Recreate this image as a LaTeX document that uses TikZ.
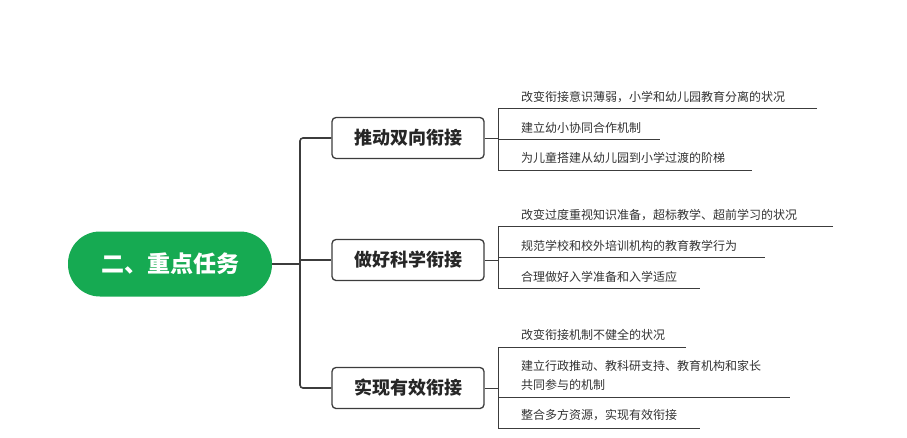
\documentclass[tikz,border=0pt]{standalone}
\usepackage{fontspec}
\setmainfont{Noto Sans CJK SC}
\usetikzlibrary{positioning}
\definecolor{rootgreen}{RGB}{22,170,82}
\definecolor{linegray}{RGB}{60,60,60}
\tikzset{
  root/.style = {fill=rootgreen, rounded corners=32pt, minimum width=204pt, minimum height=65pt, text=white, font=\fontsize{23}{26}\selectfont\bfseries},
  branch/.style = {draw=linegray, line width=1.3pt, fill=white, rounded corners=4pt, minimum width=152pt, minimum height=41pt, font=\fontsize{18}{21}\selectfont\bfseries, text=black!85},
  leaf/.style = {anchor=west, inner sep=0pt, font=\fontsize{12}{19}\selectfont, text=black!80, align=left},
  link/.style = {draw=linegray, line width=1.6pt},
  under/.style = {draw=linegray, line width=0.8pt}
}
\begin{document}
\begin{tikzpicture}[x=1pt, y=-1pt]
  \useasboundingbox (0,0) rectangle (907,437);

  \node[root] (r) at (170,264) {二、重点任务};

  \node[branch] (b1) at (408,138) {推动双向衔接};
  \node[branch] (b2) at (408,260) {做好科学衔接};
  \node[branch] (b3) at (408,388) {实现有效衔接};

  \coordinate (j) at (300,264);
  \draw[link] (r.east) -- (j);
  \draw[link, rounded corners=3pt] (b1.west) -| (j) |- (b3.west);
  \draw[link] (j |- b2.west) -- (b2.west);

  % leaves of branch 1
  \node[leaf] (l11) at (521,97) {改变衔接意识薄弱，小学和幼儿园教育分离的状况};
  \node[leaf] (l12) at (521,128) {建立幼小协同合作机制};
  \node[leaf] (l13) at (521,158) {为儿童搭建从幼儿园到小学过渡的阶梯};
  \coordinate (u11) at (498,108); \coordinate (e11) at (817,108);
  \coordinate (u12) at (498,139); \coordinate (e12) at (660,139);
  \coordinate (u13) at (498,170); \coordinate (e13) at (752,170);
  \draw[under] (b1.east) -- (u11 |- b1.east);
  \draw[under] (e11) -- (u11) -- (u13) -- (e13);
  \draw[under] (u12) -- (e12);

  % leaves of branch 2
  \node[leaf] (l21) at (521,215) {改变过度重视知识准备，超标教学、超前学习的状况};
  \node[leaf] (l22) at (521,246) {规范学校和校外培训机构的教育教学行为};
  \node[leaf] (l23) at (521,277) {合理做好入学准备和入学适应};
  \coordinate (u21) at (498,226); \coordinate (e21) at (833,226);
  \coordinate (u22) at (498,257); \coordinate (e22) at (765,257);
  \coordinate (u23) at (498,288); \coordinate (e23) at (700,288);
  \draw[under] (b2.east) -- (u21 |- b2.east);
  \draw[under] (e21) -- (u21) -- (u23) -- (e23);
  \draw[under] (u22) -- (e22);

  % leaves of branch 3
  \node[leaf] (l31) at (521,335) {改变衔接机制不健全的状况};
  \node[leaf] (l32) at (521,375) {建立行政推动、教科研支持、教育机构和家长\\共同参与的机制};
  \node[leaf] (l33) at (521,415) {整合多方资源，实现有效衔接};
  \coordinate (u31) at (498,347); \coordinate (e31) at (686,347);
  \coordinate (u32) at (498,397); \coordinate (e32) at (790,397);
  \coordinate (u33) at (498,428); \coordinate (e33) at (700,428);
  \draw[under] (b3.east) -- (u31 |- b3.east);
  \draw[under] (e31) -- (u31) -- (u33) -- (e33);
  \draw[under] (u32) -- (e32);
\end{tikzpicture}
\end{document}
